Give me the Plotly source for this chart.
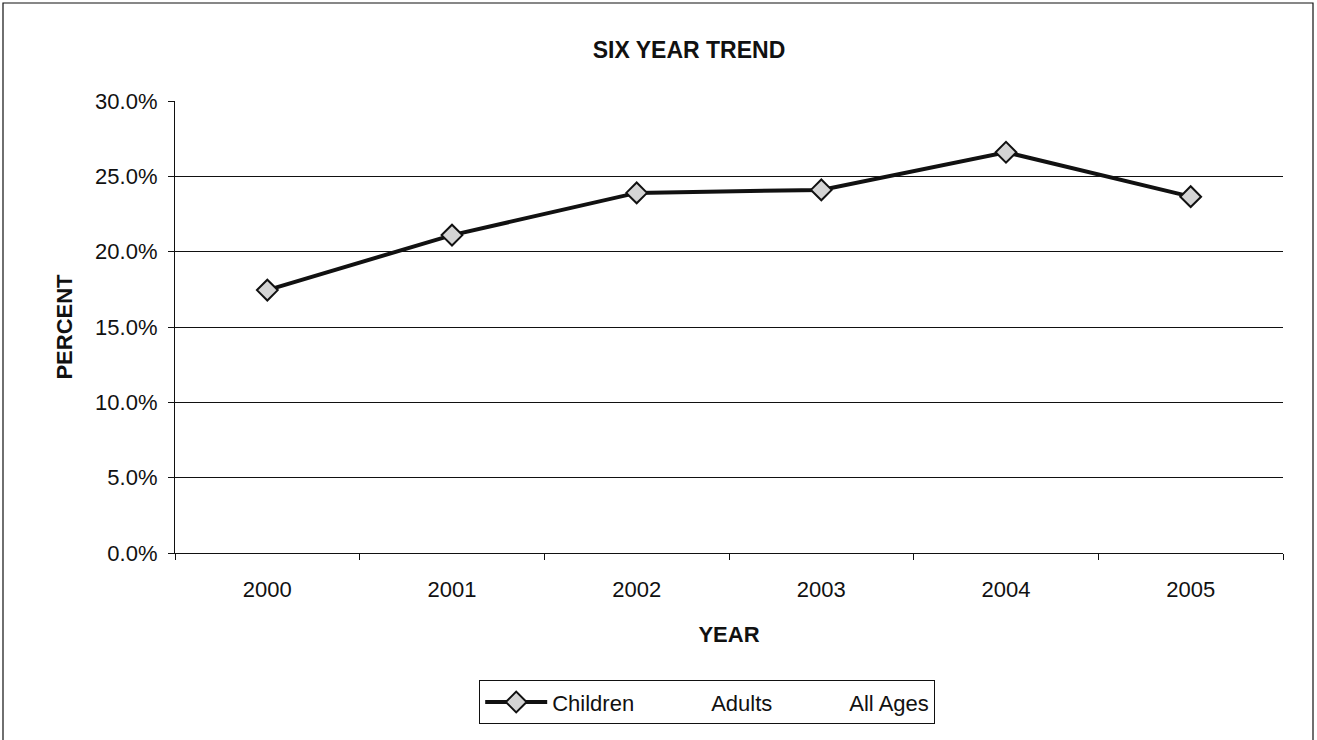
import plotly.graph_objects as go

years = ["2000", "2001", "2002", "2003", "2004", "2005"]
children = [17.45, 21.1, 23.9, 24.1, 26.6, 23.65]
adults = [None, None, None, None, None, None]
all_ages = [None, None, None, None, None, None]
y_ticks = [0, 5, 10, 15, 20, 25, 30]
y_tick_labels = ["0.0%", "5.0%", "10.0%", "15.0%", "20.0%", "25.0%", "30.0%"]

FONT = "Liberation Sans, Arial, sans-serif"
INK = "#111111"

fig = go.Figure()
fig.add_trace(go.Scatter(
    x=years, y=children, name="Children", mode="lines+markers",
    line=dict(color=INK, width=4),
    marker=dict(symbol="diamond", size=16, color="#d4d4d4",
                line=dict(color=INK, width=2)),
))
fig.add_trace(go.Scatter(
    x=years, y=adults, name="Adults", mode="lines",
    line=dict(color="rgba(255,255,255,0)", width=3),
))
fig.add_trace(go.Scatter(
    x=years, y=all_ages, name="All Ages", mode="lines",
    line=dict(color="rgba(255,255,255,0)", width=3),
))

fig.update_layout(
    width=1317, height=740,
    paper_bgcolor="white", plot_bgcolor="white",
    margin=dict(l=175, r=34, t=101, b=187),
    font=dict(family=FONT, size=22, color=INK),
    title=dict(text="<b>SIX YEAR TREND</b>", x=(689 - 0) / 1317, xanchor="center",
               y=1 - 50 / 740, yanchor="middle",
               font=dict(family=FONT, size=23, color=INK)),
    showlegend=True,
    legend=dict(orientation="h", x=(479 - 175) / 1108, xanchor="left",
                y=(553 - 680) / 452, yanchor="top",
                bordercolor=INK, borderwidth=1.2, bgcolor="white",
                font=dict(family=FONT, size=22, color=INK),
                itemwidth=62, tracegroupgap=0),
    xaxis=dict(
        type="category", showgrid=False, showline=True, linecolor=INK,
        linewidth=1.2, ticks="outside", ticklen=6, tickcolor=INK,
        tickson="boundaries", mirror=False,
        tickfont=dict(family=FONT, size=22),
        ticklabelstandoff=16,
        title=dict(text="<b>YEAR</b>", font=dict(family=FONT, size=22), standoff=26),
        range=[-0.5, 5.5],
    ),
    yaxis=dict(
        range=[0, 30], tickvals=y_ticks, ticktext=y_tick_labels,
        showgrid=True, gridcolor=INK, gridwidth=1,
        showline=True, linecolor=INK, linewidth=1.2,
        ticks="outside", ticklen=6, tickcolor=INK,
        tickfont=dict(family=FONT, size=22),
        ticklabelstandoff=6,
        title=dict(text="<b>PERCENT</b>", font=dict(family=FONT, size=22), standoff=16),
        zeroline=False,
    ),
    shapes=[dict(type="rect", xref="paper", yref="paper",
                 x0=(3 - 175) / 1108, x1=(1313 - 175) / 1108,
                 y0=(553 - 745) / 452, y1=(553 - 3) / 452,
                 line=dict(color=INK, width=1.2), fillcolor="rgba(0,0,0,0)",
                 layer="below")],
)

fig.write_html("out.html", config={"displayModeBar": False},
               post_script="document.body.style.margin='0';")
